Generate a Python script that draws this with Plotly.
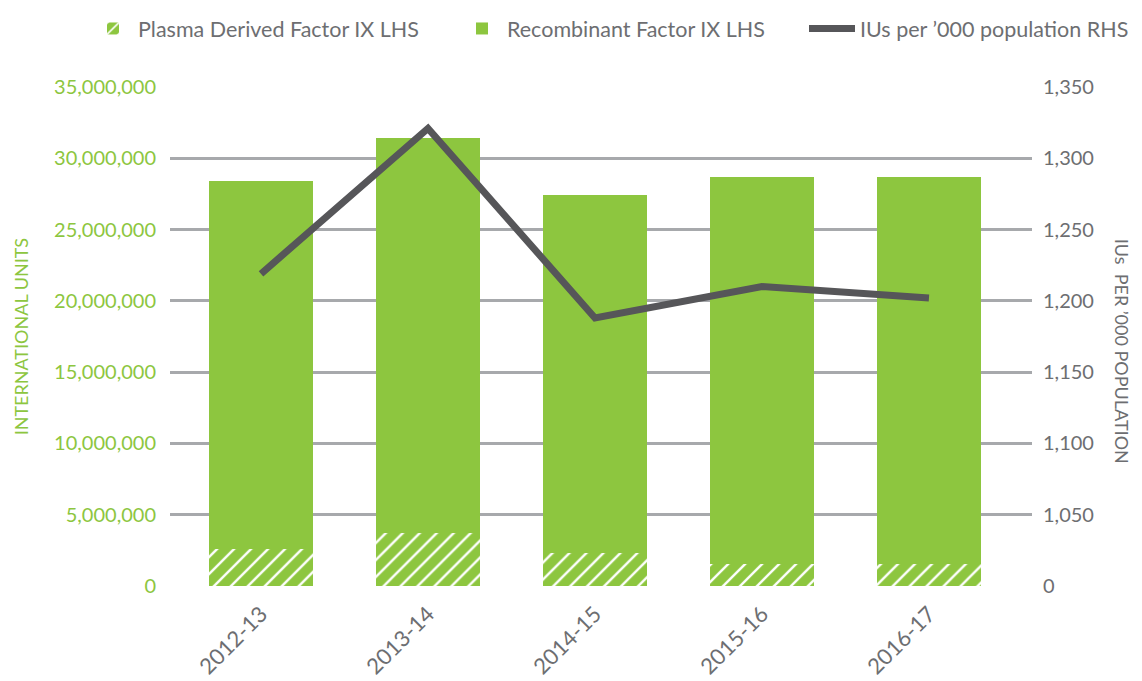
import plotly.graph_objects as go

years = ["2012-13", "2013-14", "2014-15", "2015-16", "2016-17"]
plasma_iu = [2630000, 3720000, 2350000, 1570000, 1570000]
recombinant_iu = [25810000, 27700000, 25090000, 27110000, 27110000]
ius_per_000 = [1219, 1321, 1188, 1210, 1202]

left_ticks = [0, 5000000, 10000000, 15000000, 20000000, 25000000, 30000000, 35000000]
right_ticks = [1000, 1050, 1100, 1150, 1200, 1250, 1300, 1350]
right_tick_text = ["0", "1,050", "1,100", "1,150", "1,200", "1,250", "1,300", "1,350"]

GREEN = "#8dc63f"
DARK = "#565659"
GRAY_TXT = "#6d6e71"
GRID = "#a7a9ac"
FONT = "Lato"

W, H = 1134, 673

fig = go.Figure()
fig.add_trace(go.Bar(
    x=years, y=plasma_iu, name="Plasma Derived Factor IX LHS",
    marker=dict(color=GREEN, line=dict(width=0),
                pattern=dict(shape="/", fgcolor="white", bgcolor=GREEN, size=12,
                             solidity=0.2, fgopacity=1)),
    width=0.623, legend="legend",
))
fig.add_trace(go.Bar(
    x=years, y=recombinant_iu, name="Recombinant Factor IX LHS",
    marker=dict(color=GREEN, line=dict(width=0)),
    width=0.623, legend="legend2",
))
fig.add_trace(go.Scatter(
    x=years, y=ius_per_000, name="IUs per \u2019000 population RHS",
    mode="lines", line=dict(color=DARK, width=7), yaxis="y2", legend="legend3",
))

def leg(x_page, iw=40):
    return dict(orientation="h", xref="container", yref="container",
                x=(x_page - 8) / W, y=1.0, xanchor="left", yanchor="top",
                font=dict(size=21.5, color=GRAY_TXT), itemwidth=iw,
                bgcolor="rgba(0,0,0,0)")

fig.update_layout(
    width=W, height=H,
    barmode="stack",
    plot_bgcolor="white", paper_bgcolor="white",
    margin=dict(l=162, r=110, t=79, b=95, autoexpand=False),
    font=dict(family=FONT, size=18, color=GRAY_TXT),
    showlegend=True,
    legend=leg(88),
    legend2=leg(457),
    legend3=leg(804, 46),
    xaxis=dict(type="category", range=[-0.545, 4.617], tickangle=-45,
               showgrid=False, showline=False, zeroline=False,
               tickfont=dict(size=22, color=GRAY_TXT), ticklabelstandoff=10),
    yaxis=dict(range=[0, 35000000], tickvals=left_ticks, tickformat=",d",
               showgrid=True, gridcolor=GRID, gridwidth=2.5, zeroline=False,
               showline=False, tickfont=dict(size=20, color=GREEN),
               ticklabelstandoff=13),
    yaxis2=dict(range=[1000, 1350], tickvals=right_ticks, ticktext=right_tick_text,
                overlaying="y", side="right", showgrid=False, zeroline=False,
                showline=False, tickfont=dict(size=20, color=GRAY_TXT),
                ticklabelstandoff=10),
    annotations=[
        dict(text="INTERNATIONAL UNITS", xref="paper", yref="paper",
             x=-0.173, y=0.5, xanchor="center", yanchor="middle", showarrow=False,
             textangle=-90, font=dict(size=18, color=GREEN)),
        dict(text="IUs  PER \u2019000 POPULATION", xref="paper", yref="paper",
             x=1.104, y=0.47, xanchor="center", yanchor="middle", showarrow=False,
             textangle=90, font=dict(size=18, color=GRAY_TXT)),
    ],
)

fig.write_html("out.html")
